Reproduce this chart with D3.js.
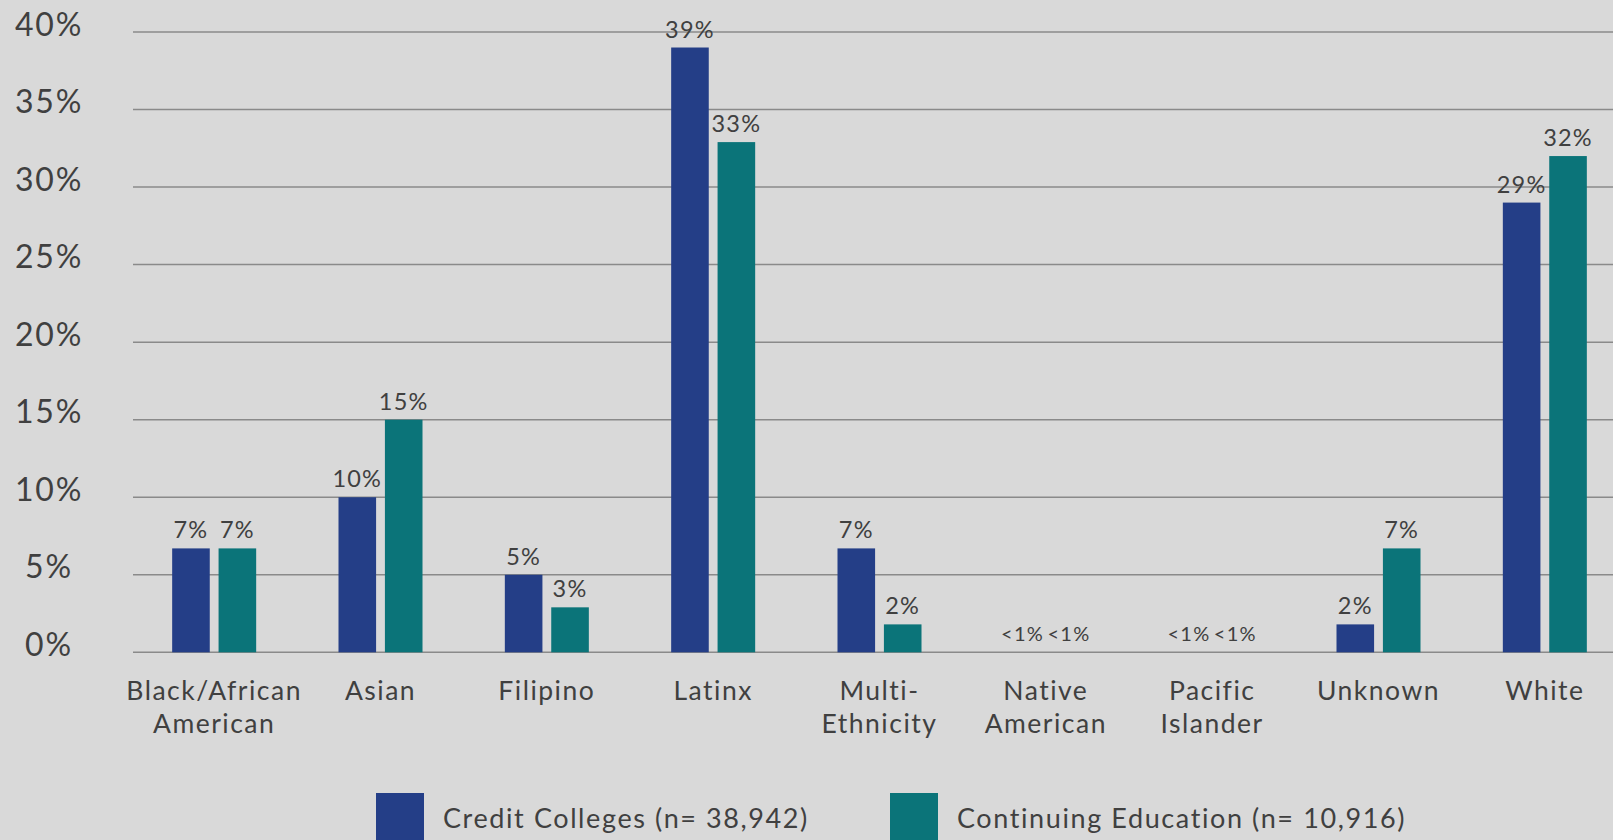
<!DOCTYPE html>
<html>
<head>
<meta charset="utf-8">
<script src="https://cdn.jsdelivr.net/npm/d3@7"></script>
<style>
  html, body { margin: 0; padding: 0; background: #d9d9d9; }
  svg { display: block; font-family: Lato, "Open Sans", sans-serif; }
</style>
</head>
<body>
<svg id="chart" width="1613" height="840"></svg>
<script>
// Student ethnicity share (%), credit colleges vs. continuing education
const categories = [
  ["Black/African", "American"],
  ["Asian"],
  ["Filipino"],
  ["Latinx"],
  ["Multi-", "Ethnicity"],
  ["Native", "American"],
  ["Pacific", "Islander"],
  ["Unknown"],
  ["White"]
];
const seriesNames = ["Credit Colleges (n= 38,942)", "Continuing Education (n= 10,916)"];
const creditValues     = [6.7, 10, 5, 39, 6.7, 0, 0, 1.8, 29];
const continuingValues = [6.7, 15, 2.9, 32.9, 1.8, 0, 0, 6.7, 32];
const yTicks = [0, 5, 10, 15, 20, 25, 30, 35, 40];

const colors = ["#243e87", "#0b7479"];
const textColor = "#404040";

const svg = d3.select("#chart");
const W = 1613, H = 840;

const catKeys = categories.map(c => c.join(" "));
const x0 = d3.scaleBand().domain(catKeys).range([131, 1628]);
const pair = 84;
const x1 = d3.scaleBand().domain([0, 1])
  .range([x0.bandwidth() / 2 - pair / 2, x0.bandwidth() / 2 + pair / 2])
  .paddingInner(0.19);
const y = d3.scaleLinear().domain([0, 40]).range([652.3, 32]);

// horizontal gridlines
svg.append("g")
  .selectAll("line")
  .data(yTicks)
  .join("line")
  .attr("x1", 133).attr("x2", W)
  .attr("y1", d => y(d)).attr("y2", d => y(d))
  .attr("stroke", "#8a8a8a").attr("stroke-width", 1.5);

// y tick labels
svg.append("g")
  .selectAll("text")
  .data(yTicks)
  .join("text")
  .attr("x", 49)
  .attr("y", d => y(d) + 3.5)
  .attr("text-anchor", "middle")
  .attr("font-size", 32)
  .attr("letter-spacing", 1.8)
  .attr("fill", textColor)
  .text(d => d + "%");

// grouped bars
const rows = catKeys.map((k, i) => ({ key: k, vals: [creditValues[i], continuingValues[i]] }));
const groups = svg.append("g")
  .selectAll("g")
  .data(rows)
  .join("g")
  .attr("transform", d => `translate(${x0(d.key)},0)`);

groups.selectAll("rect")
  .data(d => d.vals.map((v, s) => ({ v, s })))
  .join("rect")
  .attr("x", d => x1(d.s))
  .attr("width", x1.bandwidth())
  .attr("y", d => y(d.v))
  .attr("height", d => y(0) - y(d.v))
  .attr("fill", d => colors[d.s]);

// value labels
groups.selectAll("text")
  .data(d => d.vals.map((v, s) => ({ v, s })))
  .join("text")
  .attr("x", d => x1(d.s) + x1.bandwidth() / 2)
  .attr("y", d => d.v < 1 ? y(0) - 11 : y(d.v) - 10)
  .attr("text-anchor", "middle")
  .attr("font-size", d => d.v < 1 ? 20 : 23.5)
  .attr("letter-spacing", d => d.v < 1 ? 1.3 : 1.2)
  .attr("fill", textColor)
  .text(d => d.v < 1 ? "<1%" : Math.round(d.v) + "%");

// category labels
svg.append("g")
  .selectAll("text")
  .data(categories)
  .join("text")
  .attr("x", (d, i) => x0(catKeys[i]) + x0.bandwidth() / 2)
  .attr("y", 700)
  .attr("text-anchor", "middle")
  .attr("font-size", 26.5)
  .attr("letter-spacing", 1.5)
  .attr("fill", textColor)
  .selectAll("tspan")
  .data(d => d)
  .join("tspan")
  .attr("x", function () { return d3.select(this.parentNode).attr("x"); })
  .attr("dy", (d, i) => i === 0 ? 0 : 33)
  .text(d => d);

// legend
const legendX = [376, 890];
const legend = svg.append("g")
  .selectAll("g")
  .data(seriesNames)
  .join("g")
  .attr("transform", (d, i) => `translate(${legendX[i]},793)`);
legend.append("rect")
  .attr("width", 48).attr("height", 60)
  .attr("fill", (d, i) => colors[i]);
legend.append("text")
  .attr("x", 67).attr("y", 35)
  .attr("font-size", 27)
  .attr("letter-spacing", 1.6)
  .attr("fill", textColor)
  .text(d => d);
</script>
</body>
</html>
